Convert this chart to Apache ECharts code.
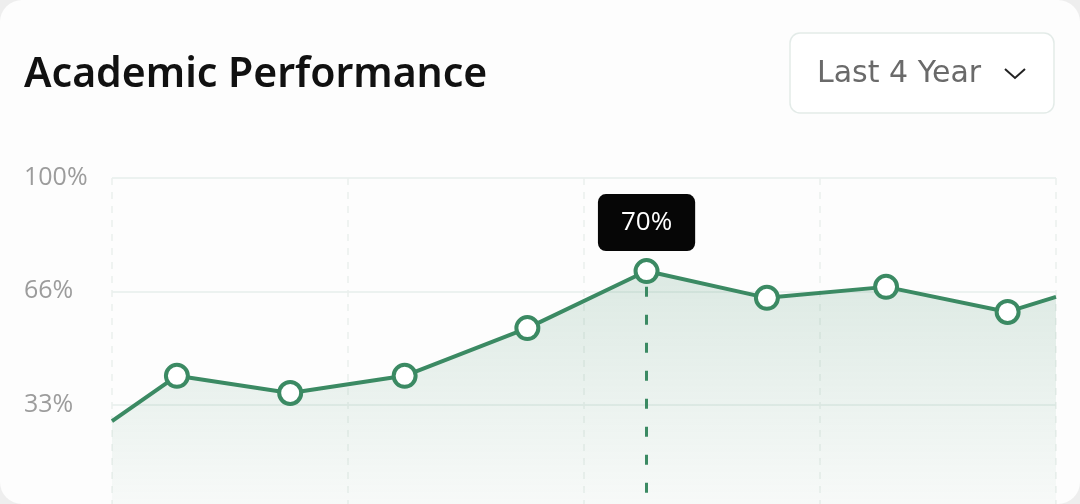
<!DOCTYPE html>
<html>
<head>
<meta charset="utf-8">
<script src="https://cdn.jsdelivr.net/npm/echarts@6/dist/echarts.min.js"></script>
<style>
  html, body { margin: 0; padding: 0; background: #eeeeee; overflow: hidden; }
  #card { width: 1080px; height: 504px; background: #fdfdfd; border-radius: 22px; overflow: hidden; }
  #chart { width: 1080px; height: 540px; }
</style>
</head>
<body>
<div id="card"><div id="chart"></div></div>
<script>
// ---- data ----
const titleText = 'Academic Performance';
const rangeLabel = 'Last 4 Year';
// x positions (in axis units, 0..8) of each point; first/last are the clipped edge points
const xPositions = [0, 0.55, 1.51, 2.48, 3.52, 4.53, 5.55, 6.56, 7.59, 8];
const scores = [28.2, 41.4, 36.4, 41.4, 55.3, 71.9, 64.1, 67.3, 60.0, 64.4];
const highlightIndex = 5;
const highlightLabel = '70%';
const yTickValues = [0, 33, 66, 99];
const yTickLabels = ['0%', '33%', '66%', '100%'];

const GREEN = '#3b8a63';
const FONT = '"Noto Sans", "Open Sans", sans-serif';
const FONT2 = '"Open Sans", "Noto Sans", sans-serif';
const FONT3 = '"DejaVu Sans", "Open Sans", sans-serif';

const chart = echarts.init(document.getElementById('chart'), null, { renderer: 'canvas' });

const data = xPositions.map((x, i) => {
  const item = { value: [x, scores[i]] };
  if (i === 0 || i === xPositions.length - 1) {
    item.symbol = 'none';
  }
  if (i === highlightIndex) {
    item.label = {
      show: true,
      position: 'top',
      distance: 7,
      formatter: highlightLabel,
      backgroundColor: '#060606',
      borderRadius: 8,
      padding: [15, 23],
      color: '#ffffff',
      fontSize: 26,
      lineHeight: 27,
      fontFamily: FONT2
    };
  }
  return item;
});

chart.setOption({
  animation: false,
  backgroundColor: 'transparent',
  title: {
    text: titleText,
    left: 19,
    top: 50,
    textStyle: { fontFamily: FONT, fontSize: 41, fontWeight: 600, color: '#111111' }
  },
  graphic: [
    {
      type: 'rect',
      shape: { x: 790, y: 33, width: 264, height: 80, r: 10 },
      style: { fill: '#ffffff', stroke: '#e3ebe8', lineWidth: 1.5 }
    },
    {
      type: 'text',
      x: 817, y: 74,
      style: { text: rangeLabel, fontFamily: FONT3, fontSize: 30, fill: '#6a6a6a', verticalAlign: 'middle', align: 'left' }
    },
    {
      type: 'polyline',
      shape: { points: [[1005, 69], [1015, 78], [1025, 69]] },
      style: { stroke: '#222222', lineWidth: 2, fill: null }
    }
  ],
  grid: { left: 112, right: 24, top: 178, height: 340 },
  xAxis: {
    type: 'value',
    min: 0, max: 8, interval: 2,
    axisLine: { show: false }, axisTick: { show: false }, axisLabel: { show: false },
    splitLine: { show: true, lineStyle: { color: '#eaefed', width: 1.5, type: [7, 7] } }
  },
  yAxis: {
    type: 'value',
    min: 0, max: 99, interval: 33,
    axisLine: { show: false }, axisTick: { show: false },
    axisLabel: {
      align: 'left', margin: 88,
      fontFamily: FONT2, fontSize: 25, color: '#9c9c9c',
      formatter: v => { const k = yTickValues.indexOf(v); return k > 0 ? yTickLabels[k] : ''; }
    },
    splitLine: { lineStyle: { color: '#e6eeeb', width: 1.5 } }
  },
  series: [{
    type: 'line',
    data: data,
    clip: true,
    symbol: 'circle',
    symbolSize: 22,
    showAllSymbol: true,
    lineStyle: { color: GREEN, width: 4 },
    itemStyle: { color: '#ffffff', borderColor: GREEN, borderWidth: 4 },
    areaStyle: {
      color: new echarts.graphic.LinearGradient(0, 0, 0, 1, [
        { offset: 0, color: 'rgba(59,138,99,0.24)' },
        { offset: 1, color: 'rgba(59,138,99,0.03)' }
      ])
    },
    markLine: {
      silent: true,
      symbol: 'none',
      label: { show: false },
      lineStyle: { color: GREEN, width: 3, type: [10, 18] },
      data: [[
        { coord: [xPositions[highlightIndex], scores[highlightIndex] - 4.6] },
        { coord: [xPositions[highlightIndex], 0] }
      ]]
    },
    z: 3
  }]
});
</script>
</body>
</html>
